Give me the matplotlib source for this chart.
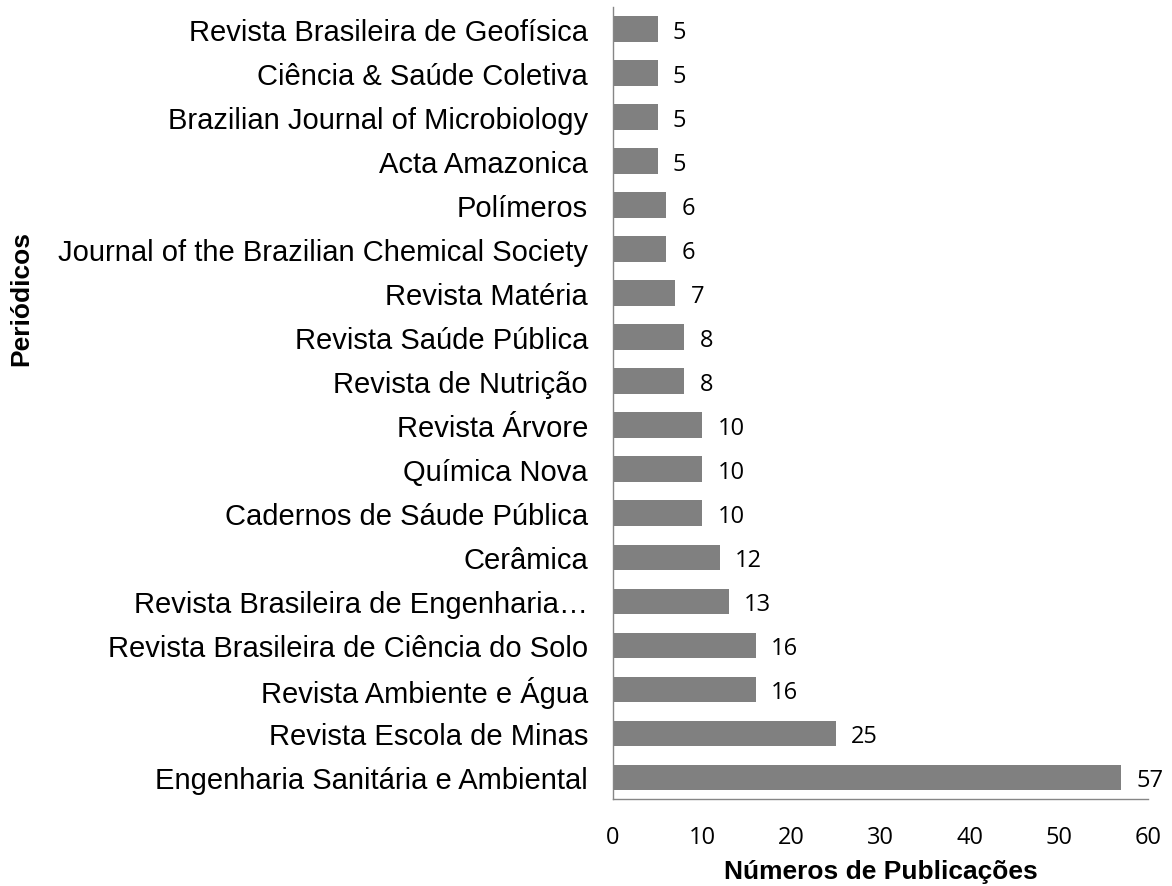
import matplotlib
matplotlib.use("Agg")
import matplotlib.pyplot as plt

periodicos = [
    "Revista Brasileira de Geofísica",
    "Ciência & Saúde Coletiva",
    "Brazilian Journal of Microbiology",
    "Acta Amazonica",
    "Polímeros",
    "Journal of the Brazilian Chemical Society",
    "Revista Matéria",
    "Revista Saúde Pública",
    "Revista de Nutrição",
    "Revista Árvore",
    "Química Nova",
    "Cadernos de Sáude Pública",
    "Cerâmica",
    "Revista Brasileira de Engenharia…",
    "Revista Brasileira de Ciência do Solo",
    "Revista Ambiente e Água",
    "Revista Escola de Minas",
    "Engenharia Sanitária e Ambiental",
]
publicacoes = [5, 5, 5, 5, 6, 6, 7, 8, 8, 10, 10, 10, 12, 13, 16, 16, 25, 57]
xticks = [0, 10, 20, 30, 40, 50, 60]

fig = plt.figure(figsize=(11.72, 8.87), dpi=100)
ax = fig.add_axes([0.523, 0.098, 0.4565, 0.893])

ypos = list(range(len(periodicos)))
ax.barh(ypos, publicacoes, height=0.57, color="#808080")
ax.set_ylim(len(periodicos) - 0.5, -0.5)
ax.set_xlim(0, 60)
ax.set_yticks(ypos)
ax.set_yticklabels(periodicos, fontfamily="Liberation Sans", fontsize=21)
ax.set_xticks(xticks)
ax.set_xticklabels([str(t) for t in xticks], fontfamily="Open Sans", fontsize=17)
ax.tick_params(axis="y", length=0, pad=18)
ax.tick_params(axis="x", length=0, pad=19)

for s in ["top", "right"]:
    ax.spines[s].set_visible(False)
for s in ["left", "bottom"]:
    ax.spines[s].set_color("#868686")
    ax.spines[s].set_linewidth(1.0)

for y, v in zip(ypos, publicacoes):
    ax.annotate(str(v), xy=(v, y), xytext=(11, -2), textcoords="offset points",
                va="center", ha="left", fontfamily="Open Sans", fontsize=17)

ax.set_xlabel("Números de Publicações", fontfamily="Liberation Sans",
              fontsize=19, fontweight="bold", labelpad=7)
fig.text(0.018, 0.663, "Periódicos", rotation=90, va="center", ha="center",
         fontfamily="Liberation Sans", fontsize=19, fontweight="bold")

fig.savefig("out.png", dpi=100)
